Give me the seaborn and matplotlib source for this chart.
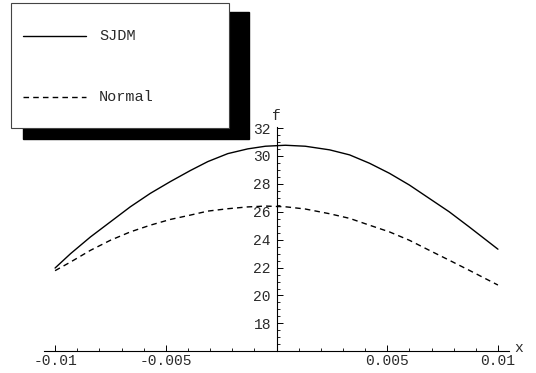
import matplotlib
matplotlib.use("Agg")
import matplotlib.pyplot as plt
import seaborn as sns
import pandas as pd
from matplotlib.ticker import FixedLocator, MultipleLocator, FixedFormatter
from matplotlib.patches import Rectangle
from matplotlib.lines import Line2D

# ---- data ----
x_vals = [-0.01, -0.0093, -0.0084, -0.0075, -0.0066, -0.0057, -0.0048,
          -0.0039, -0.0031, -0.0022, -0.0013, -0.0005, 0.0004, 0.0013,
          0.0024, 0.0033, 0.0042, 0.0051, 0.006, 0.0069, 0.0078, 0.0087, 0.01]
sjdm_f = [21.97, 23.00, 24.20, 25.28, 26.36, 27.32, 28.16,
          28.95, 29.60, 30.17, 30.51, 30.70, 30.77, 30.70,
          30.44, 30.08, 29.48, 28.76, 27.92, 26.96, 26.00, 24.92, 23.32]
normal_f = [21.78, 22.40, 23.24, 23.96, 24.56, 25.04, 25.45,
            25.76, 26.05, 26.22, 26.35, 26.41, 26.36, 26.20,
            25.86, 25.53, 25.04, 24.56, 23.96, 23.24, 22.53, 21.81, 20.75]
series_names = ["SJDM", "Normal"]
x_ticks = [-0.01, -0.005, 0.005, 0.01]
x_tick_labels = ["-0.01", "-0.005", "0.005", "0.01"]
y_ticks = [18, 20, 22, 24, 26, 28, 30, 32]
y_tick_labels = ["18", "20", "22", "24", "26", "28", "30", "32"]

df = pd.DataFrame({
    "x": x_vals * 2,
    "f": sjdm_f + normal_f,
    "series": [series_names[0]] * len(x_vals) + [series_names[1]] * len(x_vals),
})

sns.set_style("white")
plt.rcParams["font.family"] = ["Liberation Mono", "DejaVu Sans Mono"]

W, H = 536, 373
FS = 10.5
TXT = "#2a2a2a"
fig = plt.figure(figsize=(W / 100, H / 100), dpi=100)
ax = fig.add_axes([44 / W, (H - 351.3) / H, 465 / W, 224.6 / H])

sns.lineplot(data=df, x="x", y="f", style="series",
             dashes={"SJDM": "", "Normal": (4, 3)}, color="black",
             linewidth=1.0, legend=False, sort=False, ax=ax)

ax.set_xlim(-0.0105, 0.0105)
ax.set_ylim(16, 32.1)
ax.set_xlabel("")
ax.set_ylabel("")

for s in ["top", "right"]:
    ax.spines[s].set_visible(False)
ax.spines["left"].set_position(("data", 0))
ax.spines["bottom"].set_position(("data", 16))
for s in ["left", "bottom"]:
    ax.spines[s].set_linewidth(0.8)
    ax.spines[s].set_color("black")

ax.xaxis.set_major_locator(FixedLocator(x_ticks))
ax.xaxis.set_major_formatter(FixedFormatter(x_tick_labels))
ax.xaxis.set_minor_locator(MultipleLocator(0.001))
ax.yaxis.set_major_locator(FixedLocator(y_ticks))
ax.yaxis.set_major_formatter(FixedFormatter(y_tick_labels))
ax.yaxis.set_minor_locator(MultipleLocator(0.5))

ax.tick_params(axis="both", which="major", direction="in", length=4, width=0.7,
               color="black", labelsize=FS, labelcolor=TXT)
ax.tick_params(axis="both", which="minor", direction="in", length=2.2, width=0.6,
               color="black")
ax.tick_params(axis="x", which="both", bottom=True, pad=2)
ax.tick_params(axis="y", which="both", left=True, pad=4)
ax.grid(False)

# axis labels
ax.text(0.01075, 16.25, "x", ha="left", va="center", fontsize=FS, color=TXT)
ax.text(0, 32.4, "f", ha="center", va="bottom", fontsize=FS, color=TXT)

# ---- legend box with shadow (pixel coordinates overlay) ----
ov = fig.add_axes([0, 0, 1, 1], zorder=5)
ov.set_xlim(0, W)
ov.set_ylim(H, 0)
ov.axis("off")
ov.add_patch(Rectangle((23, 12), 226, 127, facecolor="black", edgecolor="black"))
ov.add_patch(Rectangle((11, 2.5), 218, 125.5, facecolor="white",
                       edgecolor="#444444", linewidth=0.8))
ov.add_line(Line2D([23, 86], [35.7, 35.7], color="black", linewidth=1.0))
ov.add_line(Line2D([23, 86], [96.7, 96.7], color="black", linewidth=1.0,
                   dashes=(4, 3)))
ov.text(99, 35.7, series_names[0], ha="left", va="center", fontsize=FS + 0.5,
        color=TXT)
ov.text(99, 96.7, series_names[1], ha="left", va="center", fontsize=FS + 0.5,
        color=TXT)

fig.savefig("out.png", dpi=100)
